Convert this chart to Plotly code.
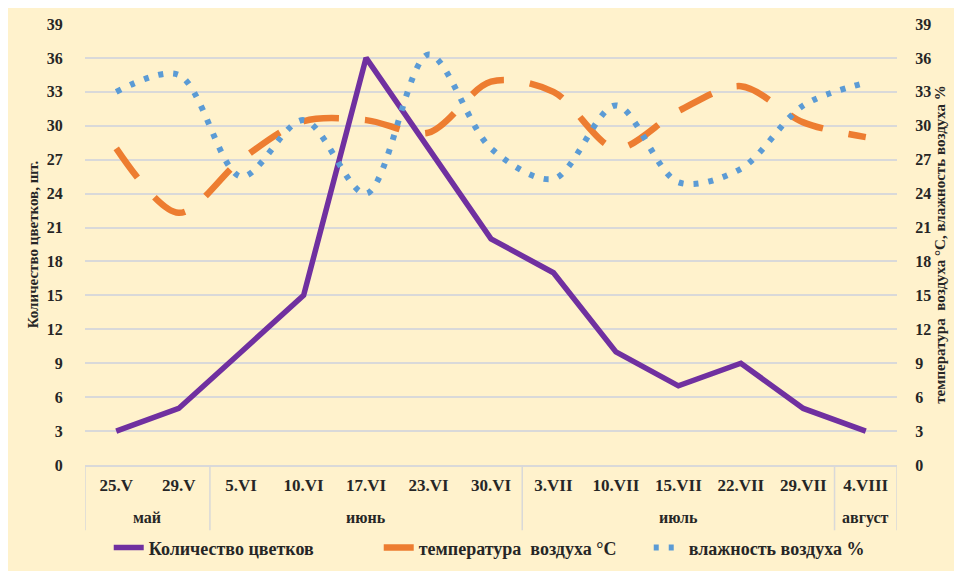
import plotly.graph_objects as go

dates = ["25.V", "29.V", "5.VI", "10.VI", "17.VI", "23.VI", "30.VI",
         "3.VII", "10.VII", "15.VII", "22.VII", "29.VII", "4.VIII"]
months = ["май", "май", "июнь", "июнь", "июнь", "июнь", "июнь",
          "июль", "июль", "июль", "июль", "июль", "август"]

flowers = [3, 5, 10, 15, 36, 28, 20, 17, 10, 7, 9, 5, 3]
temperature = [28, 22.3, 27, 30.4, 30.5, 29.4, 33.9, 33, 28, 31.3, 33.5, 30.3, 29]
humidity = [33, 34.5, 25.5, 30.5, 24, 36.3, 28, 25.3, 31.8, 25, 26.2, 31.8, 33.8]

FF = "Liberation Serif"
TXT = "#262626"
GRID = "#D9D9D9"


def fnt(size):
    return dict(family=FF, size=size, color=TXT, weight="bold")


fig = go.Figure()
fig.add_trace(go.Scatter(
    x=dates, y=flowers, name="Количество цветков", mode="lines",
    line=dict(color="#7030A0", width=5.5), yaxis="y"))
fig.add_trace(go.Scatter(
    x=dates, y=temperature, name="температура  воздуха °С", mode="lines",
    line=dict(color="#ED7D31", width=6.5, dash="36px,26px", shape="spline", smoothing=0.9),
    yaxis="y2"))
fig.add_trace(go.Scatter(
    x=dates, y=humidity, name="влажность воздуха %", mode="lines",
    line=dict(color="#5B9BD5", width=6, dash="5px,10px", shape="spline", smoothing=0.9),
    yaxis="y2"))

# month group labels and dividers, derived from the months list
groups = []
for i, m in enumerate(months):
    if groups and groups[-1][0] == m:
        groups[-1][2] = i
    else:
        groups.append([m, i, i])

annotations = []
shapes = []
for m, a, b in groups:
    annotations.append(dict(x=(a + b) / 2, y=-0.12, xref="x", yref="paper",
                            text=m, showarrow=False, yanchor="middle",
                            font=fnt(16)))
    shapes.append(dict(type="line", xref="x", yref="paper", x0=a - 0.5, x1=a - 0.5,
                       y0=0, y1=-0.148, line=dict(color=GRID, width=1.5)))
shapes.append(dict(type="line", xref="x", yref="paper",
                   x0=len(dates) - 0.5, x1=len(dates) - 0.5,
                   y0=0, y1=-0.148, line=dict(color=GRID, width=1.5)))

fig.update_layout(
    width=954, height=563,
    margin=dict(l=77, r=65, t=16, b=106, autoexpand=False),
    paper_bgcolor="#FFF2CC", plot_bgcolor="#FFF2CC",
    font=fnt(15),
    showlegend=True,
    legend=dict(orientation="h", x=0.528, xanchor="center", y=-0.188, yanchor="middle",
                font=fnt(18), bgcolor="rgba(0,0,0,0)", entrywidth=225,
                traceorder="normal"),
    annotations=annotations,
    shapes=shapes,
    xaxis=dict(type="category", range=[-0.5, len(dates) - 0.5], showgrid=False,
               showline=True, linecolor=GRID, linewidth=1.5, zeroline=False,
               ticks="outside", ticklen=4, tickcolor="rgba(0,0,0,0)",
               tickfont=fnt(17), automargin=False),
    yaxis=dict(range=[0, 39], dtick=3, showgrid=True, gridcolor=GRID, gridwidth=1.5,
               zeroline=False, showline=False, ticks="outside", ticklen=18,
               tickcolor="rgba(0,0,0,0)", tickfont=fnt(16), automargin=False,
               title=dict(text="Количество цветков, шт.", font=fnt(15), standoff=4)),
    yaxis2=dict(range=[0, 39], dtick=3, overlaying="y", side="right", showgrid=False,
                zeroline=False, showline=False, ticks="outside", ticklen=14,
                tickcolor="rgba(0,0,0,0)", tickfont=fnt(16), automargin=False,
                title=dict(text="температура  воздуха °С, влажность воздуха %",
                           font=fnt(15), standoff=4)),
)

fig.write_html("out.html")
